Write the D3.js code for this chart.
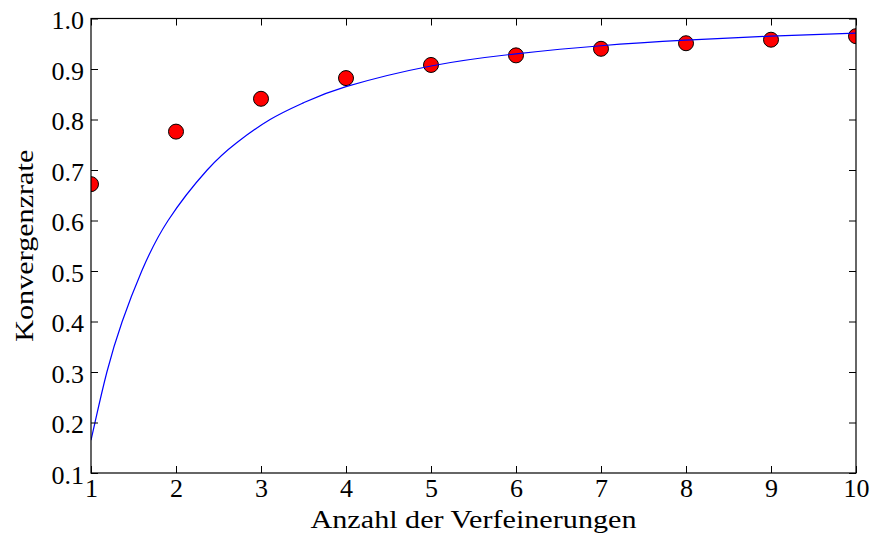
<!DOCTYPE html>
<html>
<head>
<meta charset="utf-8">
<script src="https://cdn.jsdelivr.net/npm/d3@7"></script>
<style>
  html, body { margin: 0; padding: 0; background: #fff; }
  svg { display: block; }
</style>
</head>
<body>
<svg id="chart" width="871" height="538"></svg>
<script>
// Data
const refinements = [1, 2, 3, 4, 5, 6, 7, 8, 9, 10];
const rates = [0.672, 0.776, 0.841, 0.882, 0.908, 0.927, 0.940, 0.951, 0.958, 0.965];
const curveX = [1, 1.047, 1.187, 1.367, 1.597, 1.907, 2.367, 2.714, 3.107, 3.498, 4.0, 5, 6, 7, 8, 9, 10];
const curveY = [0.165, 0.2, 0.3, 0.4, 0.5, 0.6, 0.7, 0.754, 0.8, 0.833, 0.865, 0.906, 0.930, 0.946, 0.957, 0.965, 0.971];
const xTicks = [1, 2, 3, 4, 5, 6, 7, 8, 9, 10];
const yTicks = [0.1, 0.2, 0.3, 0.4, 0.5, 0.6, 0.7, 0.8, 0.9, 1.0];
const xLabel = "Anzahl der Verfeinerungen";
const yLabel = "Konvergenzrate";

// pick an installed serif font
function pickFont() {
  const c = document.createElement("canvas").getContext("2d");
  const sample = "Anzahl der Verfeinerungen 0123456789 Konvergenzrate";
  const cands = ["Liberation Serif", "Times New Roman", "Tinos", "DejaVu Serif", "Noto Serif", "FreeSerif"];
  for (const f of cands) {
    let differs = false;
    for (const fb of ["monospace", "sans-serif"]) {
      c.font = `24px ${fb}`; const w0 = c.measureText(sample).width;
      c.font = `24px "${f}", ${fb}`; const w1 = c.measureText(sample).width;
      if (Math.abs(w0 - w1) > 0.5) differs = true; else { differs = false; break; }
    }
    if (differs) return `"${f}"`;
  }
  return "serif";
}
const FONT = pickFont() + ", serif";
const FS = 26;

const L = 91, R = 856, T = 18.5, B = 473;
const svg = d3.select("#chart");
const x = d3.scaleLinear().domain([1, 10]).range([L, R]);
const y = d3.scaleLinear().domain([0.1, 1.0]).range([B, T]);

svg.append("defs").append("clipPath").attr("id", "plotclip")
  .append("rect").attr("x", L).attr("y", T).attr("width", R - L).attr("height", B - T);

const plot = svg.append("g").attr("clip-path", "url(#plotclip)");

// markers
plot.selectAll("circle").data(refinements).enter().append("circle")
  .attr("cx", d => x(d))
  .attr("cy", (d, i) => y(rates[i]))
  .attr("r", 7.5)
  .attr("fill", "#ff0000")
  .attr("stroke", "#000")
  .attr("stroke-width", 1);

// curve
const lineData = curveX.map((d, i) => [d, curveY[i]]);
plot.append("path")
  .datum(lineData)
  .attr("fill", "none")
  .attr("stroke", "#0000ff")
  .attr("stroke-width", 1.2)
  .attr("d", d3.line().x(d => x(d[0])).y(d => y(d[1])).curve(d3.curveNatural));

// axes (ticks inward on all sides)
const tickLen = 7;
const fmt = d3.format(".1f");
const axB = svg.append("g").attr("transform", `translate(0,${B})`)
  .call(d3.axisBottom(x).tickValues(xTicks).tickSizeInner(-tickLen).tickSizeOuter(0).tickPadding(10).tickFormat(d3.format("d")));
const axT = svg.append("g").attr("transform", `translate(0,${T})`)
  .call(d3.axisTop(x).tickValues(xTicks).tickSizeInner(-tickLen).tickSizeOuter(0).tickFormat(""));
const axL = svg.append("g").attr("transform", `translate(${L},0)`)
  .call(d3.axisLeft(y).tickValues(yTicks).tickSizeInner(-tickLen).tickSizeOuter(0).tickPadding(8).tickFormat(fmt));
const axR = svg.append("g").attr("transform", `translate(${R},0)`)
  .call(d3.axisRight(y).tickValues(yTicks).tickSizeInner(-tickLen).tickSizeOuter(0).tickFormat(""));

[axB, axT, axL, axR].forEach(a => {
  a.attr("font-family", FONT).attr("font-size", FS);
  a.select(".domain").remove();
  a.selectAll(".tick line").attr("stroke", "#000").attr("stroke-width", 1);
  a.selectAll("text").attr("fill", "#000");
});
axB.selectAll(".tick text").attr("dy", "0.71em").attr("y", 6);
axL.selectAll(".tick text").attr("dy", "0.4em").attr("x", -7);

// frame
svg.append("rect").attr("x", L).attr("y", T).attr("width", R - L).attr("height", B - T)
  .attr("fill", "none").attr("stroke", "#000").attr("stroke-width", 1.2);

// axis labels
svg.append("text")
  .attr("x", (L + R) / 2).attr("y", 528)
  .attr("text-anchor", "middle")
  .attr("font-family", FONT)
  .attr("font-size", FS)
  .attr("fill", "#000")
  .attr("textLength", 326).attr("lengthAdjust", "spacingAndGlyphs")
  .text(xLabel);

svg.append("text")
  .attr("transform", `translate(33,${(T + B) / 2}) rotate(-90)`)
  .attr("text-anchor", "middle")
  .attr("font-family", FONT)
  .attr("font-size", FS)
  .attr("fill", "#000")
  .attr("textLength", 192).attr("lengthAdjust", "spacingAndGlyphs")
  .text(yLabel);
</script>
</body>
</html>
